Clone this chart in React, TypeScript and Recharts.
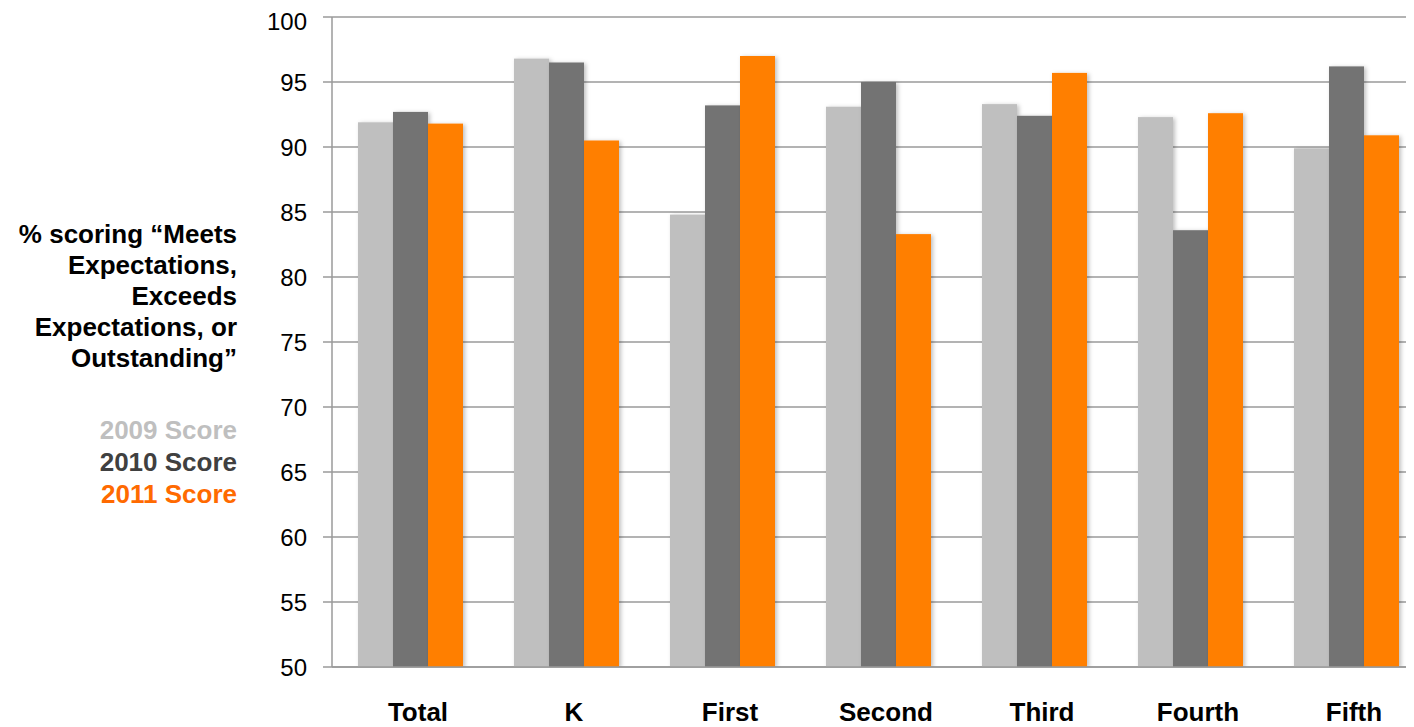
import React from 'react';
import { BarChart, Bar, XAxis, YAxis, CartesianGrid } from 'recharts';

const categories = ['Total', 'K', 'First', 'Second', 'Third', 'Fourth', 'Fifth'];
const score2009 = [91.9, 96.8, 84.8, 93.1, 93.3, 92.3, 89.9];
const score2010 = [92.7, 96.5, 93.2, 95.0, 92.4, 83.6, 96.2];
const score2011 = [91.8, 90.5, 97.0, 83.3, 95.7, 92.6, 90.9];
const yTicks = [50, 55, 60, 65, 70, 75, 80, 85, 90, 95, 100];
const seriesNames = ['2009 Score', '2010 Score', '2011 Score'];
const seriesColors = ['#BFBFBF', '#737373', '#FF7F00'];
const legendColors = ['#BFBFBF', '#404040', '#FF6A00'];
const titleLines = ['% scoring \u201CMeets', 'Expectations,', 'Exceeds', 'Expectations, or', 'Outstanding\u201D'];

const data = categories.map((c, i) => ({
  category: c,
  s2009: score2009[i],
  s2010: score2010[i],
  s2011: score2011[i],
}));

const FONT = '"Liberation Sans", Arial, Helvetica, sans-serif';

const ShadowBar = (props: any) => {
  const { x, y, width, height, fill } = props;
  if (height == null || height <= 0) return null;
  return <rect x={x} y={y} width={width} height={height} fill={fill} filter="url(#barShadow)" />;
};

export default function App() {
  return (
    <div style={{ position: 'relative', width: 1406, height: 719, overflow: 'hidden', fontFamily: FONT }}>
      <svg width={0} height={0} style={{ position: 'absolute' }}>
        <defs>
          <filter id="barShadow" x="-20%" y="-5%" width="140%" height="110%">
            <feDropShadow dx={2} dy={1} stdDeviation={2} floodColor="#000" floodOpacity={0.25} />
          </filter>
        </defs>
      </svg>
      <div
        style={{
          position: 'absolute',
          left: 0,
          top: 211,
          width: 229,
          textAlign: 'right',
          fontSize: 26,
          fontWeight: 'bold',
          lineHeight: '31px',
          color: '#000',
        }}
      >
        {titleLines.map((t) => (
          <div key={t}>{t}</div>
        ))}
      </div>
      <div
        style={{
          position: 'absolute',
          left: 0,
          top: 406,
          width: 229,
          textAlign: 'right',
          fontSize: 26,
          fontWeight: 'bold',
          lineHeight: '32px',
        }}
      >
        {seriesNames.map((t, i) => (
          <div key={t} style={{ color: legendColors[i] }}>{t}</div>
        ))}
      </div>
      <div style={{ position: 'absolute', left: 0, top: 0 }}>
        <BarChart
          width={1416}
          height={719}
          data={data}
          margin={{ top: 9, right: 0, bottom: 0, left: 224 }}
          barGap={0}
          barSize={35}
          style={{ fontFamily: FONT }}
        >
          <CartesianGrid horizontal={true} vertical={false} stroke="#9a9a9a" strokeWidth={1.5} />
          <XAxis
            dataKey="category"
            height={60}
            tickLine={false}
            axisLine={{ stroke: '#9a9a9a', strokeWidth: 1.5 }}
            tickSize={6}
            tickMargin={30}
            tick={{ fontSize: 26, fontWeight: 'bold', fill: '#000', dx: 8 }}
            interval={0}
          />
          <YAxis
            domain={[50, 100]}
            ticks={yTicks}
            width={100}
            allowDataOverflow
            axisLine={{ stroke: '#9a9a9a', strokeWidth: 1.5 }}
            tickLine={{ stroke: '#9a9a9a', strokeWidth: 1.5 }}
            tickSize={9}
            tickMargin={16}
            tick={{ fontSize: 24, fill: '#000' }}
          />
          <Bar dataKey="s2009" name={seriesNames[0]} fill={seriesColors[0]} isAnimationActive={false} shape={ShadowBar} />
          <Bar dataKey="s2010" name={seriesNames[1]} fill={seriesColors[1]} isAnimationActive={false} shape={ShadowBar} />
          <Bar dataKey="s2011" name={seriesNames[2]} fill={seriesColors[2]} isAnimationActive={false} shape={ShadowBar} />
        </BarChart>
      </div>
    </div>
  );
}
